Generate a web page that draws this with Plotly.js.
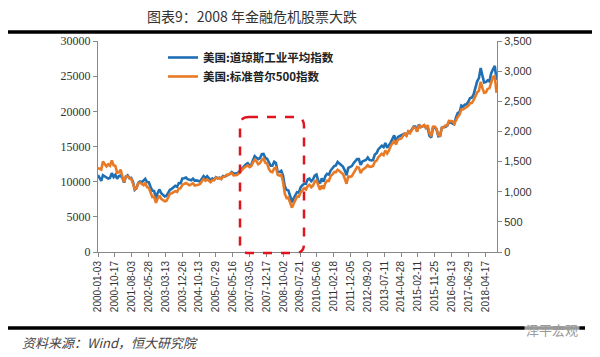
<!DOCTYPE html>
<html>
<head>
<meta charset="utf-8">
<script src="https://cdn.plot.ly/plotly-3.0.1.min.js"></script>
<style>html,body{margin:0;padding:0;background:#fff;}#chart{width:600px;height:357px;}</style>
</head>
<body>
<div id="chart"></div>
<script>
// ---- Data (monthly closes, read/estimated) ----
var startYear = 2000;
// Dow Jones Industrial Average, monthly, Jan 2000 .. Oct 2018
var djia = [
10941,10128,10922,10734,10522,10448,10522,11215,10651,10971,10415,10788,
10887,10495,9879,10735,10912,10502,10523,9950,8848,9075,9852,10022,
9920,10106,10404,9946,9925,9243,8737,8664,7592,8397,8896,8342,
8054,7891,7992,8480,8850,8985,9234,9416,9275,9801,9782,10454,
10488,10584,10358,10226,10188,10435,10140,10174,10080,10027,10428,10783,
10490,10766,10504,10193,10467,10275,10641,10482,10569,10440,10806,10718,
10865,10993,11109,11367,11168,11150,11186,11381,11679,12081,12222,12463,
12622,12269,12354,13063,13628,13409,13212,13358,13896,13930,13372,13265,
12650,12266,12263,12820,12638,11350,11378,11544,10851,9325,8829,8776,
8001,7063,7609,8168,8500,8447,9172,9496,9712,9713,10345,10428,
10067,10325,10857,11009,10137,9774,10466,10015,10788,11118,11006,11578,
11892,12226,12320,12811,12570,12414,12143,11614,10913,11955,12046,12218,
12633,12952,13212,13214,12393,12880,13009,13091,13437,13096,13026,13104,
13861,14054,14579,14840,15116,14910,15500,14810,15130,15546,16086,16577,
15699,16322,16458,16581,16717,16827,16563,17098,17043,17391,17828,17823,
17165,18133,17776,17841,18011,17620,17690,16528,16285,17664,17720,17425,
16466,16517,17685,17774,17787,17930,18432,18401,18308,18142,19124,19763,
19864,20812,20663,20941,21009,21350,21891,21948,22405,23377,24272,24719,
26149,25029,24103,24163,24416,24271,25415,25965,26458,24443
];
// S&P 500, monthly, Jan 2000 .. Oct 2018
var spx = [
1394,1366,1499,1452,1421,1455,1431,1518,1437,1429,1315,1320,
1366,1240,1160,1249,1256,1224,1211,1134,1041,1060,1139,1148,
1130,1107,1147,1076,1067,990,912,916,815,886,936,880,
856,841,848,917,964,975,990,1008,996,1051,1058,1112,
1131,1145,1126,1107,1121,1141,1102,1104,1115,1130,1174,1212,
1181,1204,1181,1157,1192,1191,1234,1220,1229,1207,1249,1248,
1280,1281,1295,1311,1270,1270,1277,1304,1336,1378,1401,1418,
1438,1407,1421,1482,1531,1503,1455,1474,1527,1549,1481,1468,
1379,1331,1323,1386,1400,1280,1267,1283,1166,969,896,903,
826,735,798,873,919,919,987,1021,1057,1036,1096,1115,
1074,1104,1169,1187,1089,1031,1102,1049,1141,1183,1181,1258,
1286,1327,1326,1364,1345,1321,1292,1219,1131,1253,1247,1258,
1312,1366,1408,1398,1310,1362,1379,1407,1441,1412,1416,1426,
1498,1515,1569,1598,1631,1606,1686,1633,1682,1757,1806,1848,
1783,1859,1872,1884,1924,1960,1931,2003,1972,2018,2068,2059,
1995,2105,2068,2086,2107,2063,2104,1972,1920,2079,2080,2044,
1940,1932,2060,2065,2097,2099,2174,2171,2168,2126,2199,2239,
2279,2364,2363,2384,2412,2423,2470,2472,2519,2575,2648,2674,
2824,2714,2641,2648,2705,2718,2816,2902,2914,2641
];
var tickLabels = ["2000-01-03","2000-10-17","2001-08-03","2002-05-28","2003-03-13","2003-12-26",
"2004-10-13","2005-07-29","2006-05-16","2007-03-05","2007-12-17","2008-10-02","2009-07-21",
"2010-05-06","2011-02-18","2011-12-05","2012-09-20","2013-07-11","2014-04-28","2015-02-11",
"2015-11-25","2016-09-13","2017-06-29","2018-04-17"];
var seriesNames = ["美国:道琼斯工业平均指数","美国:标准普尔500指数"];

// month-end-ish dates for monthly points
var dates = [];
for (var i = 0; i < djia.length; i++) {
  var y = startYear + Math.floor(i / 12), m = (i % 12) + 1;
  dates.push(y + "-" + (m < 10 ? "0" + m : m) + "-28");
}
dates[0] = "2000-01-03";

var traces = [
  {x: dates, y: djia, name: seriesNames[0], type: "scatter", mode: "lines",
   line: {color: "#1f6fb4", width: 2.6}, yaxis: "y"},
  {x: dates, y: spx, name: seriesNames[1], type: "scatter", mode: "lines",
   line: {color: "#e87a26", width: 2.6}, yaxis: "y2"}
];

var L = 98, R = 497, T = 41, B = 252, W = R - L, H = B - T;
function px(x){ return (x - L) / W; }
function py(y){ return (B - y) / H; }

// rounded dashed rectangle
var x0 = px(240), x1 = px(304), yt = py(117), yb = py(253);
var rx = 9 / W, ry = 9 / H;
var rectPath = "M " + (x0 + rx) + "," + yt + " L " + (x1 - rx) + "," + yt +
  " Q " + x1 + "," + yt + " " + x1 + "," + (yt - ry) +
  " L " + x1 + "," + (yb + ry) + " Q " + x1 + "," + yb + " " + (x1 - rx) + "," + yb +
  " L " + (x0 + rx) + "," + yb + " Q " + x0 + "," + yb + " " + x0 + "," + (yb + ry) +
  " L " + x0 + "," + (yt - ry) + " Q " + x0 + "," + yt + " " + (x0 + rx) + "," + yt + " Z";

var layout = {
  width: 600, height: 357,
  margin: {l: L, r: 600 - R, t: T, b: 357 - B},
  paper_bgcolor: "#fff", plot_bgcolor: "#fff",
  showlegend: true,
  title: {text: "图表9：2008 年金融危机股票大跌", x: 147/600, xanchor: "left", y: 1 - 17/357, yanchor: "middle",
          font: {family: "Noto Sans CJK SC", size: 14, color: "#333"}},
  legend: {x: px(163), y: py(43), xanchor: "left", yanchor: "top", bgcolor: "rgba(0,0,0,0)",
           font: {family: "Noto Sans CJK SC", size: 11.5, color: "#222", weight: "bold"},
           tracegroupgap: 0, itemwidth: 30},
  xaxis: {type: "date", range: ["2000-01-03", "2018-11-05"], tickmode: "array",
          tickvals: tickLabels, ticktext: tickLabels, tickangle: -90,
          tickfont: {family: "Liberation Sans", size: 10, color: "#333"},
          showgrid: false, zeroline: false, showline: true, linecolor: "#888", linewidth: 1,
          ticks: "outside", ticklen: 4, tickcolor: "#888"},
  yaxis: {range: [0, 30000], dtick: 5000, tickformat: "d", showgrid: false, zeroline: false,
          showline: true, linecolor: "#888", linewidth: 1, ticks: "outside", ticklen: 4, tickcolor: "#888",
          tickfont: {family: "Liberation Serif", size: 12, color: "#333"}},
  yaxis2: {range: [0, 3500], dtick: 500, tickformat: ",", overlaying: "y", side: "right",
          showgrid: false, zeroline: false, showline: true, linecolor: "#888", linewidth: 1,
          ticks: "outside", ticklen: 4, tickcolor: "#888",
          tickfont: {family: "Liberation Sans", size: 11, color: "#333"}},
  shapes: [
    {type: "line", xref: "paper", yref: "paper", x0: px(8), x1: px(592), y0: py(32), y1: py(32),
     line: {color: "#000", width: 3.5}},
    {type: "line", xref: "paper", yref: "paper", x0: px(8), x1: px(585), y0: py(328), y1: py(328),
     line: {color: "#000", width: 3.5}},
    {type: "path", xref: "paper", yref: "paper", path: rectPath,
     line: {color: "#e0141e", width: 2.5, dash: "dash"}}
  ],
  annotations: [
    {text: "<i>资料来源：Wind，恒大研究院</i>", xref: "paper", yref: "paper", x: px(20), y: py(342),
     xanchor: "left", yanchor: "middle", showarrow: false,
     font: {family: "Noto Sans CJK SC", size: 13, color: "#444"}},
    {text: "泽平宏观", xref: "paper", yref: "paper", x: px(580), y: py(329),
     xanchor: "right", yanchor: "middle", showarrow: false, bgcolor: "rgba(255,255,255,0.6)",
     font: {family: "Noto Sans CJK SC", size: 13, color: "#9a9a9a"}}
  ]
};

Plotly.newPlot("chart", traces, layout, {displayModeBar: false, staticPlot: true});
</script>
</body>
</html>
